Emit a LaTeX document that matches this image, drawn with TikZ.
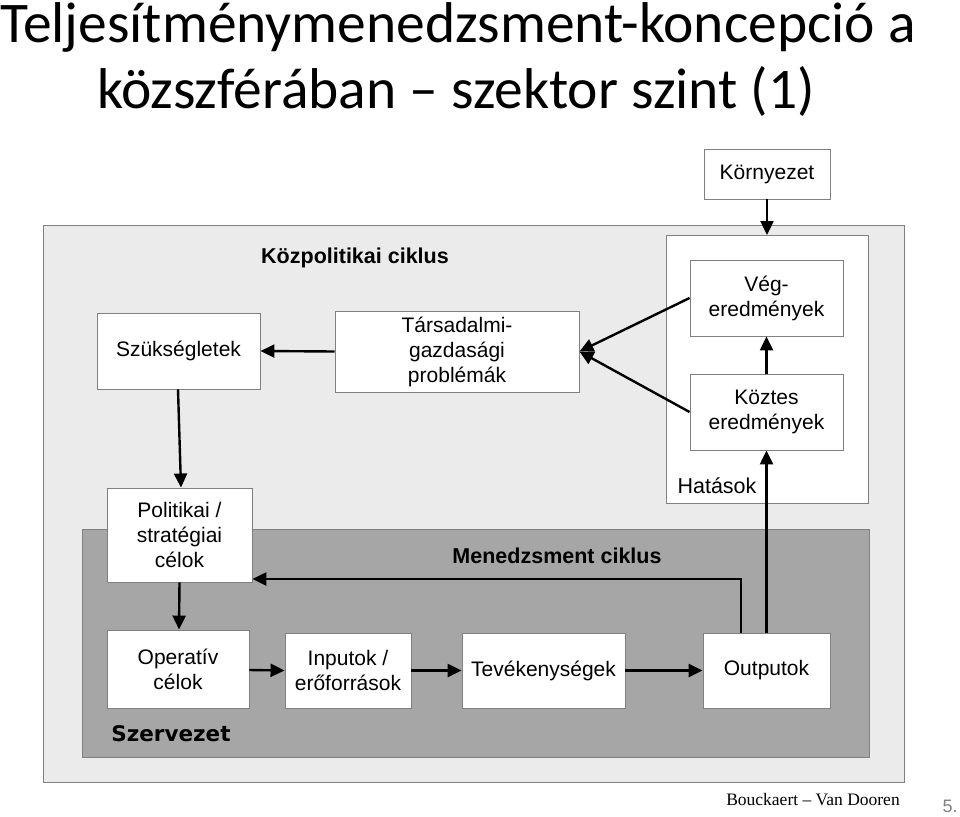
\documentclass[tikz,border=0pt]{standalone}
\usepackage{fontspec}
\setmainfont{Liberation Sans}
\newfontfamily\titlefont{Carlito}
\newfontfamily\serifref{Liberation Serif}
\newfontfamily\heavyfont{DejaVu Sans}
\usetikzlibrary{arrows.meta,calc}
\definecolor{lightbg}{HTML}{EBEBEB}
\definecolor{darkbg}{HTML}{A6A6A6}
\definecolor{edgegray}{HTML}{808080}
\tikzset{
  box/.style={draw=edgegray, line width=0.9pt, fill=white, align=center, inner sep=0pt,
    font=\fontsize{21}{25}\selectfont},
  conn/.style={line width=2.4pt, -{Triangle[length=14pt,width=13pt]}},
  heading/.style={font=\fontsize{21.5}{25}\selectfont\bfseries, inner sep=0pt},
  titletext/.style={font=\titlefont\fontsize{57.5}{66}\selectfont, inner sep=0pt},
}
\begin{document}
\begin{tikzpicture}[x=1pt,y=-1pt]
\useasboundingbox (0,0) rectangle (960,816);
% title
\node[titletext, anchor=base west] (t1) at (0,43) {Teljesítménymenedzsment-koncepció a};
\node[titletext, anchor=base] (t2) at (456,108) {közszférában – szektor szint (1)};
% backgrounds
\draw[edgegray, line width=0.9pt, fill=lightbg] (43,225) rectangle (904,782);
\draw[edgegray, line width=0.9pt, fill=darkbg] (82,529) rectangle (869,757);
\draw[edgegray, line width=0.9pt, fill=white] (666,235) rectangle (868,503);
% nodes
\node[box, minimum width=126pt, minimum height=50pt] (korny) at (767,174) {Környezet};
\node[box, minimum width=153pt, minimum height=76pt] (veg) at (766.5,298) {Vég-\\eredmények};
\node[box, minimum width=153pt, minimum height=76pt] (koztes) at (766.5,412) {Köztes\\eredmények};
\node[box, minimum width=163pt, minimum height=76pt] (szuk) at (178.5,351) {Szükségletek};
\node[box, minimum width=244pt, minimum height=81pt] (tars) at (457,351.5) {Társadalmi-\\gazdasági\\problémák};
\node[box, minimum width=145pt, minimum height=94pt] (pol) at (179.5,535) {Politikai /\\stratégiai\\célok};
\node[box, minimum width=142pt, minimum height=78pt] (oper) at (178,669) {Operatív\\célok};
\node[box, minimum width=126pt, minimum height=75pt] (inp) at (348,670.5) {Inputok /\\erőforrások};
\node[box, minimum width=163pt, minimum height=75pt] (tev) at (543.5,670.5) {Tevékenységek};
\node[box, minimum width=127pt, minimum height=75pt] (outp) at (766.5,670.5) {Outputok};
% labels
\node[heading] (kozpol) at (355,258) {Közpolitikai ciklus};
\node[heading] (menedz) at (557,556) {Menedzsment ciklus};
\node[font=\fontsize{21.5}{25}\selectfont, inner sep=0pt] (hatas) at (717,486) {Hatások};
\node[font=\heavyfont\fontsize{21.5}{26}\selectfont\bfseries, inner sep=0pt] (szerv) at (171,734) {Szervezet};
\node[font=\serifref\fontsize{17.5}{20}\selectfont, inner sep=0pt] (ref) at (813,800) {Bouckaert – Van Dooren};
\node[font=\fontsize{18}{20}\selectfont, text=gray, inner sep=0pt] (pg) at (950,806) {5.};
% connectors
\coordinate (wtop) at (767,235);
\draw[conn] (korny.south) -- (wtop);
\draw[conn] (koztes.north) -- (veg.south);
\draw[conn] (veg.west) -- (tars.east);
\draw[conn] (koztes.west) -- (tars.east);
\draw[conn] (tars.west) -- (szuk.east);
\draw[conn] ([xshift=-0.5pt]szuk.south) -- ([xshift=1.5pt]pol.north);
\draw[conn] (pol.south) -- ([xshift=1pt]oper.north);
\draw[conn] ([yshift=-1pt]oper.east) -- (inp.west);
\draw[conn] (inp.east) -- (tev.west);
\draw[conn] (tev.east) -- (outp.west);
\draw[conn] ([xshift=-25.5pt]outp.north) |- ([yshift=-44pt]pol.east);
\draw[conn] (outp.north) -- (koztes.south);
\end{tikzpicture}
\end{document}
